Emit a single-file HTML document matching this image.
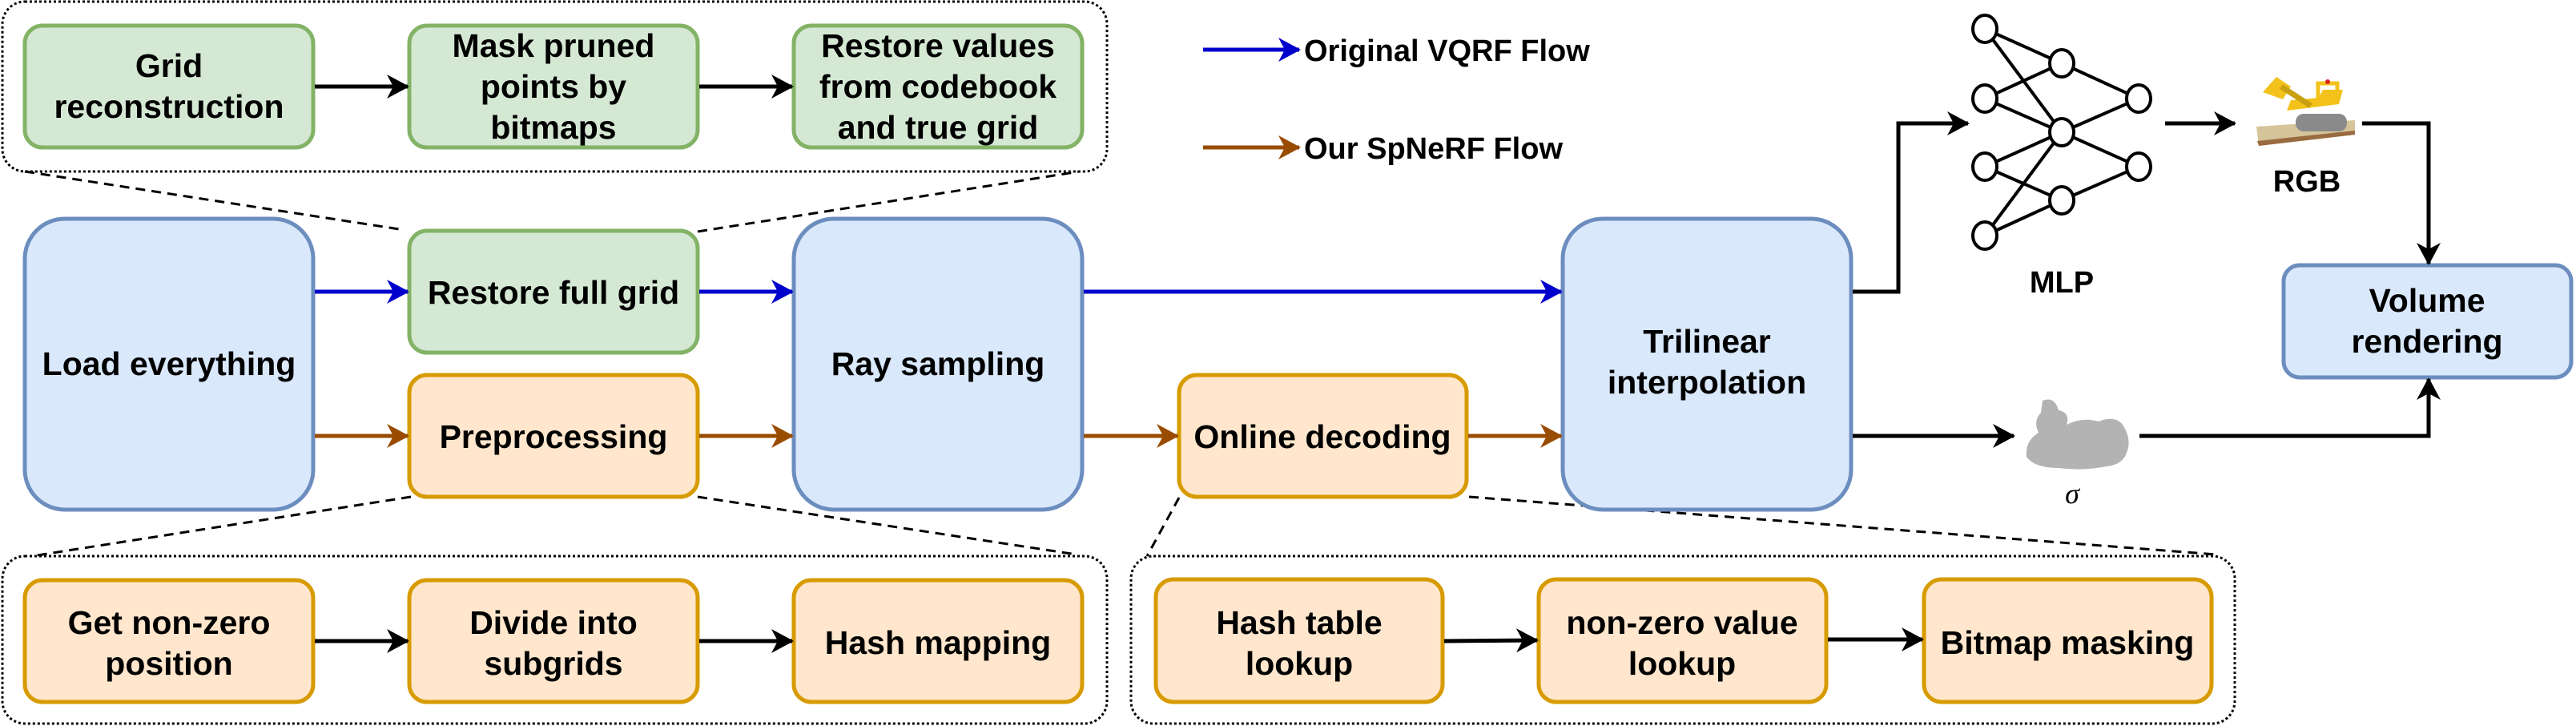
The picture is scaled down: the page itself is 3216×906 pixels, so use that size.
<!DOCTYPE html>
<html><head><meta charset="utf-8"><style>
html,body{margin:0;padding:0;background:#fff;}
svg{display:block}
text{font-family:"Liberation Sans",sans-serif;font-weight:bold;font-size:41px;fill:#000;text-anchor:middle}
</style></head><body>
<svg width="3216" height="906" viewBox="0 0 3216 906" xmlns="http://www.w3.org/2000/svg">
<defs>
<marker id="ak" markerUnits="userSpaceOnUse" markerWidth="32" markerHeight="32" refX="26" refY="15" orient="auto"><path d="M0,0 L28,15 L0,30 L8,15 Z" fill="#000"/></marker>
<marker id="ab" markerUnits="userSpaceOnUse" markerWidth="32" markerHeight="32" refX="26" refY="15" orient="auto"><path d="M0,0 L28,15 L0,30 L8,15 Z" fill="#0000cc"/></marker>
<marker id="ao" markerUnits="userSpaceOnUse" markerWidth="32" markerHeight="32" refX="26" refY="15" orient="auto"><path d="M0,0 L28,15 L0,30 L8,15 Z" fill="#994c00"/></marker>
</defs>

<rect x="3" y="2" width="1379" height="212" rx="28" fill="none" stroke="#000" stroke-width="3" stroke-dasharray="3,3"/>
<rect x="3" y="694" width="1379" height="209" rx="28" fill="none" stroke="#000" stroke-width="3" stroke-dasharray="3,3"/>
<rect x="1412" y="694" width="1378" height="209" rx="28" fill="none" stroke="#000" stroke-width="3" stroke-dasharray="3,3"/>

<g stroke="#000" stroke-width="3" stroke-dasharray="12,8" fill="none">
<line x1="31" y1="214" x2="505" y2="287"/>
<line x1="871" y1="289" x2="1348" y2="214"/>
<line x1="513" y1="620" x2="40" y2="694"/>
<line x1="871" y1="620" x2="1344" y2="692"/>
<line x1="1472" y1="621" x2="1432" y2="694"/>
<line x1="1834" y1="620" x2="2767" y2="692"/>
</g>

<g fill="#d5e8d4" stroke="#82b366" stroke-width="5">
<rect x="31" y="32" width="360" height="152" rx="22"/>
<rect x="511" y="32" width="360" height="152" rx="22"/>
<rect x="991" y="32" width="360" height="152" rx="22"/>
<rect x="511" y="288" width="360" height="152" rx="22"/>
</g>
<g fill="#dae8fc" stroke="#6c8ebf" stroke-width="5">
<rect x="31" y="273" width="360" height="363" rx="50"/>
<rect x="991" y="273" width="360" height="363" rx="50"/>
<rect x="1951" y="273" width="360" height="363" rx="50"/>
<rect x="2851" y="331" width="359" height="140" rx="20"/>
</g>
<g fill="#ffe6cc" stroke="#d79b00" stroke-width="5">
<rect x="511" y="468" width="360" height="152" rx="22"/>
<rect x="1472" y="468" width="359" height="152" rx="22"/>
<rect x="31" y="724" width="360" height="152" rx="22"/>
<rect x="511" y="724" width="360" height="152" rx="22"/>
<rect x="991" y="724" width="360" height="152" rx="22"/>
<rect x="1443" y="723" width="358" height="153" rx="22"/>
<rect x="1921" y="723" width="359" height="153" rx="22"/>
<rect x="2402" y="723" width="359" height="153" rx="22"/>
</g>

<g stroke="#000" stroke-width="5" fill="none" marker-end="url(#ak)">
<line x1="393" y1="108" x2="509" y2="108"/>
<line x1="873" y1="108" x2="989" y2="108"/>
<line x1="393" y1="800" x2="509" y2="800"/>
<line x1="873" y1="800" x2="989" y2="800"/>
<line x1="1803" y1="800" x2="1919" y2="799"/>
<line x1="2282" y1="798" x2="2400" y2="798"/>
<polyline points="2313,364 2370,364 2370,154 2457,154"/>
<line x1="2703" y1="154" x2="2790" y2="154"/>
<polyline points="2949,154 3032,154 3032,329"/>
<line x1="2313" y1="544" x2="2514" y2="544"/>
<polyline points="2671,544 3032,544 3032,473"/>
</g>
<g stroke="#0000cc" stroke-width="5" fill="none" marker-end="url(#ab)">
<line x1="393" y1="364" x2="509" y2="364"/>
<line x1="873" y1="364" x2="989" y2="364"/>
<line x1="1353" y1="364" x2="1949" y2="364"/>
<line x1="1502" y1="62" x2="1622" y2="62"/>
</g>
<g stroke="#994c00" stroke-width="5" fill="none" marker-end="url(#ao)">
<line x1="393" y1="544" x2="509" y2="544"/>
<line x1="873" y1="544" x2="989" y2="544"/>
<line x1="1353" y1="544" x2="1470" y2="544"/>
<line x1="1833" y1="544" x2="1949" y2="544"/>
<line x1="1502" y1="184" x2="1622" y2="184"/>
</g>

<g stroke="#000" stroke-width="4" fill="none">
<line x1="2478" y1="36" x2="2574" y2="79"/><line x1="2478" y1="36" x2="2574" y2="165"/>
<line x1="2478" y1="123" x2="2574" y2="79"/><line x1="2478" y1="123" x2="2574" y2="165"/>
<line x1="2478" y1="208" x2="2574" y2="165"/><line x1="2478" y1="208" x2="2574" y2="250"/>
<line x1="2478" y1="294" x2="2574" y2="165"/><line x1="2478" y1="294" x2="2574" y2="250"/>
<line x1="2574" y1="79" x2="2670" y2="123"/><line x1="2574" y1="165" x2="2670" y2="123"/>
<line x1="2574" y1="165" x2="2670" y2="208"/><line x1="2574" y1="250" x2="2670" y2="208"/>
</g>
<g stroke="#000" stroke-width="4" fill="#fff">
<ellipse cx="2478" cy="36" rx="15" ry="17"/><ellipse cx="2478" cy="123" rx="15" ry="17"/>
<ellipse cx="2478" cy="208" rx="15" ry="17"/><ellipse cx="2478" cy="294" rx="15" ry="17"/>
<ellipse cx="2574" cy="79" rx="15" ry="17"/><ellipse cx="2574" cy="165" rx="15" ry="17"/>
<ellipse cx="2574" cy="250" rx="15" ry="17"/>
<ellipse cx="2670" cy="123" rx="15" ry="17"/><ellipse cx="2670" cy="208" rx="15" ry="17"/>
</g>

<!-- bulldozer -->
<g>
<polygon points="2817,158 2940,150 2940,168 2820,182" fill="#d6c49a"/>
<polygon points="2818,176 2940,163 2940,168 2820,182" fill="#9a6a40"/>
<polygon points="2855,138 2920,130 2925,112 2900,112 2895,122 2860,125" fill="#f2c21b"/>
<rect x="2866" y="142" width="64" height="22" rx="10" fill="#8a8a8a"/>
<polygon points="2825,115 2842,96 2860,108 2850,124" fill="#f2c21b"/>
<line x1="2848" y1="108" x2="2885" y2="132" stroke="#c9a010" stroke-width="7"/>
<rect x="2894" y="104" width="24" height="18" fill="none" stroke="#f2c21b" stroke-width="5"/>
<circle cx="2906" cy="102" r="3" fill="#d22"/>
</g>

<path d="M2550,500 Q2565,494 2570,512 Q2585,515 2580,530 Q2600,520 2620,526 Q2640,518 2650,530 Q2662,548 2655,565 Q2650,580 2630,582 Q2600,588 2570,584 Q2540,584 2530,570 Q2528,550 2545,540 Q2538,525 2548,515 Z" fill="#b3b3b3"/>

<text x="211" y="96">Grid</text><text x="211" y="147">reconstruction</text>
<text x="691" y="71">Mask pruned</text><text x="691" y="122">points by</text><text x="691" y="173">bitmaps</text>
<text x="1171" y="71">Restore values</text><text x="1171" y="122">from codebook</text><text x="1171" y="173">and true grid</text>
<text x="691" y="379">Restore full grid</text>
<text x="211" y="468">Load everything</text>
<text x="1171" y="468">Ray sampling</text>
<text x="691" y="559">Preprocessing</text>
<text x="1651" y="559">Online decoding</text>
<text x="2131" y="440">Trilinear</text><text x="2131" y="491">interpolation</text>
<text x="3030" y="389">Volume</text><text x="3030" y="440">rendering</text>
<text x="211" y="791">Get non-zero</text><text x="211" y="842">position</text>
<text x="691" y="791">Divide into</text><text x="691" y="842">subgrids</text>
<text x="1171" y="816">Hash mapping</text>
<text x="1622" y="791">Hash table</text><text x="1622" y="842">lookup</text>
<text x="2100" y="791">non-zero value</text><text x="2100" y="842">lookup</text>
<text x="2581" y="816">Bitmap masking</text>
<text x="2574" y="365" style="font-size:38px">MLP</text>
<text x="2880" y="239" style="font-size:38px">RGB</text>
<text x="2587" y="628" style="font-size:36px;font-weight:normal;font-style:italic;font-family:'Liberation Serif',serif">σ</text>
<text x="1628" y="76" style="text-anchor:start;font-size:38px">Original VQRF Flow</text>
<text x="1628" y="198" style="text-anchor:start;font-size:38px">Our SpNeRF Flow</text>
</svg>
</body></html>
